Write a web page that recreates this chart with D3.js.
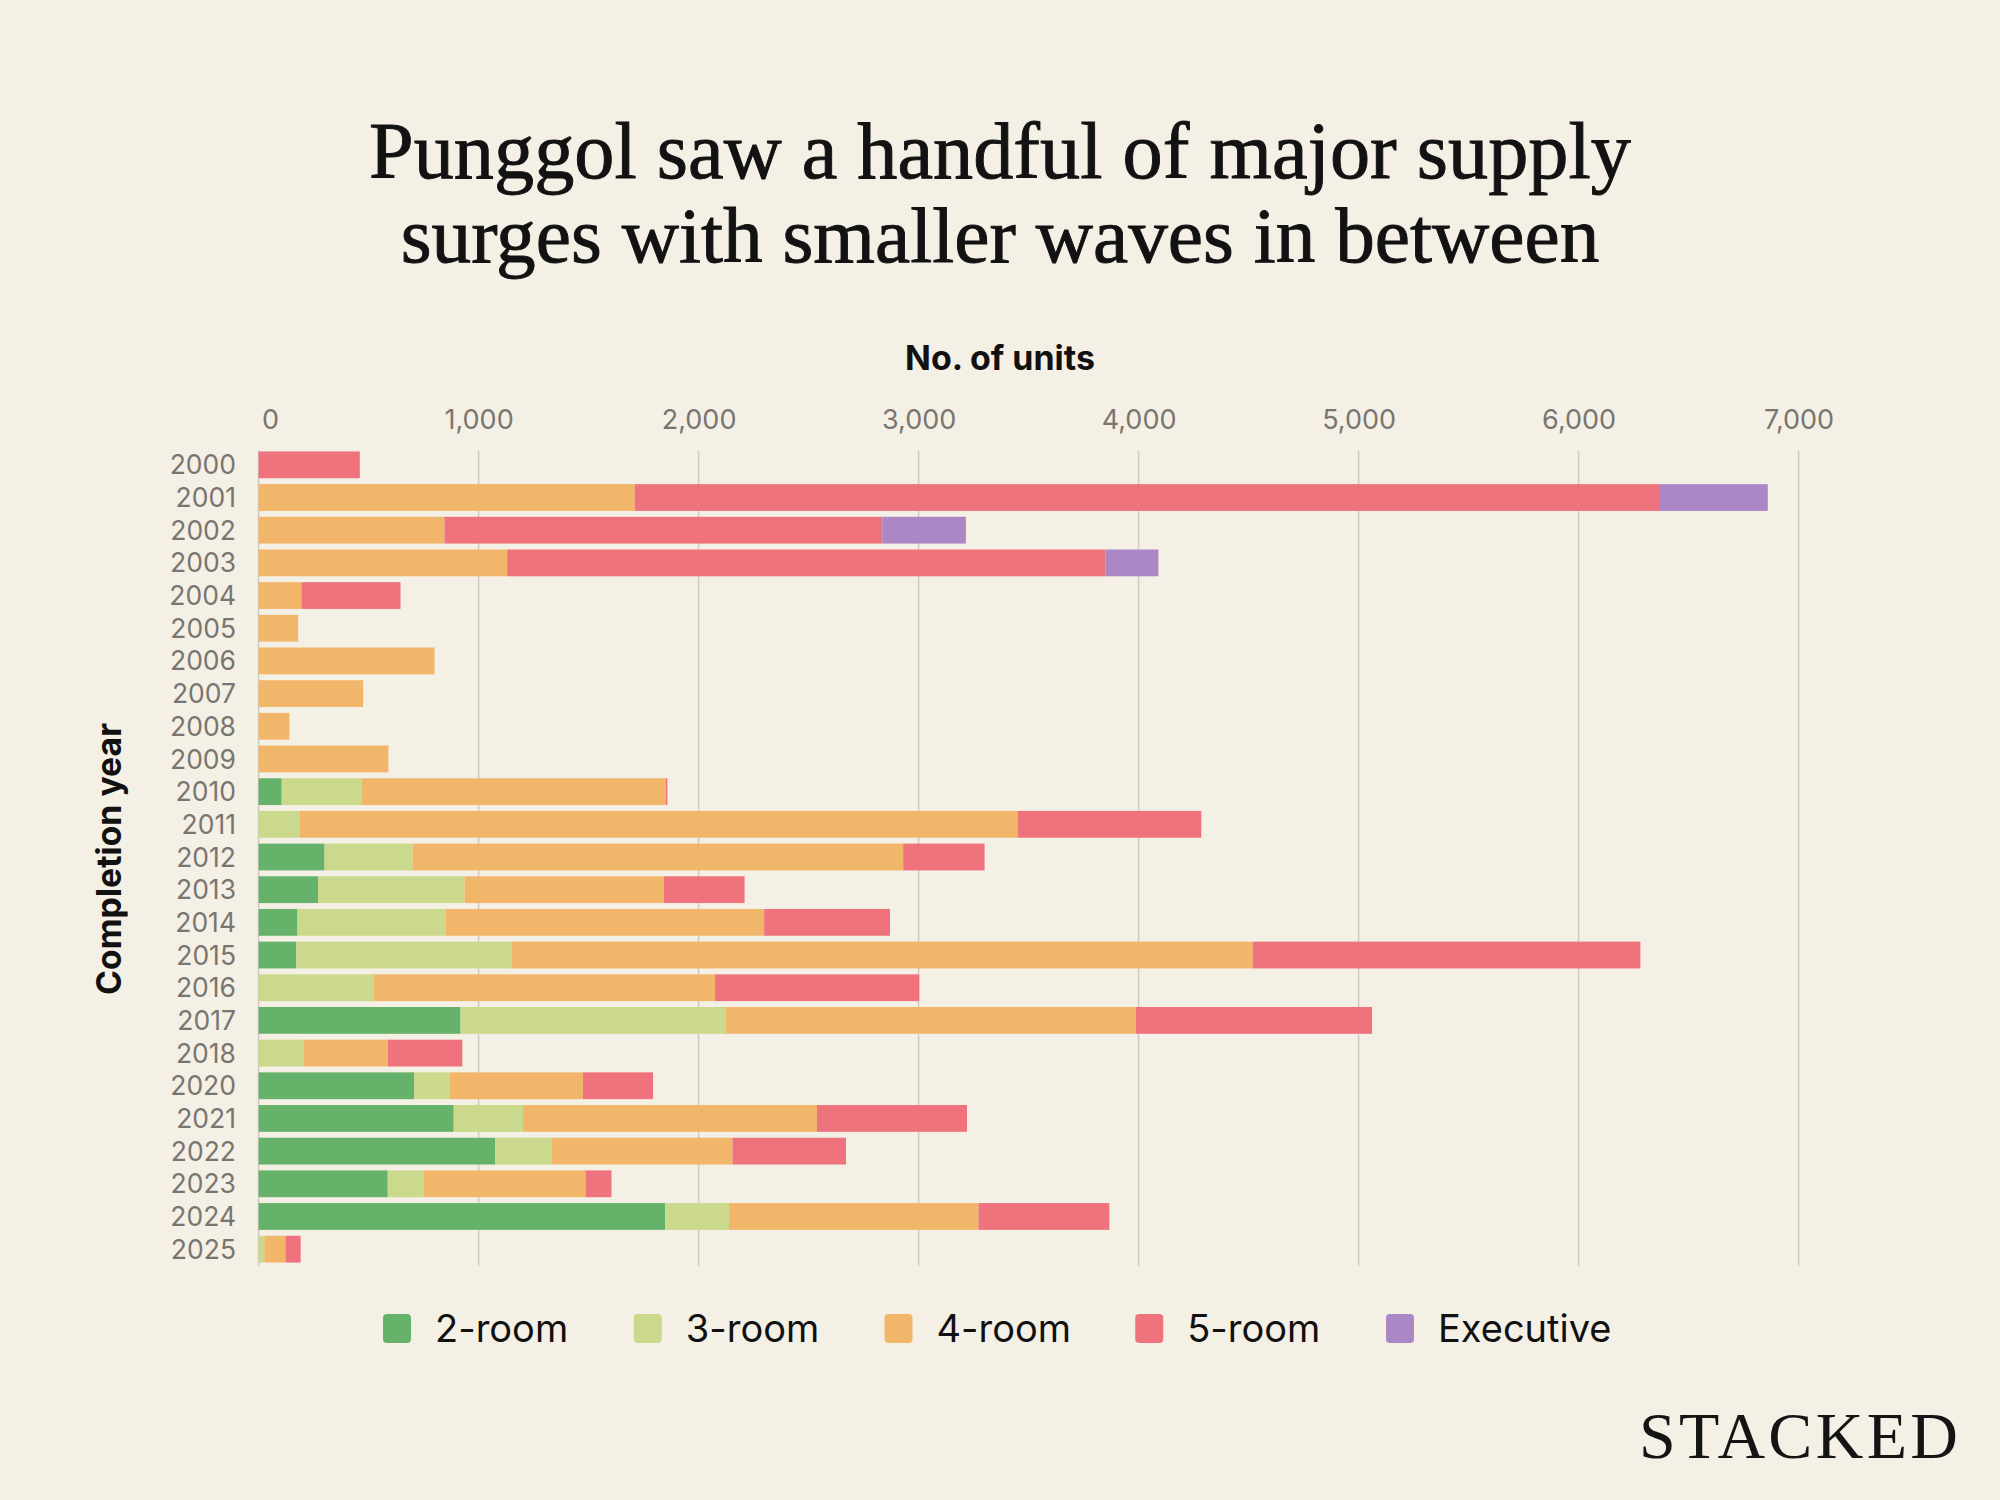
<!DOCTYPE html>
<html><head><meta charset="utf-8">
<script src="https://cdn.jsdelivr.net/npm/d3@7"></script>
<style>
html,body{margin:0;padding:0;background:#f4f0e5;}
svg{display:block;}
</style></head>
<body>
<svg id="chart" width="2000" height="1500"></svg>
<script>
// ---- data ----
const years = ["2000","2001","2002","2003","2004","2005","2006","2007","2008","2009","2010","2011","2012","2013","2014","2015","2016","2017","2018","2020","2021","2022","2023","2024","2025"];
const room2 = [0,0,0,0,0,0,0,0,0,0,105,0,300,270,177,171,0,918,0,707,887,1076,587,1848,0];
const room3 = [0,0,0,0,0,0,0,0,0,0,365,185,400,666,674,980,522,1204,203,162,315,254,164,290,26];
const room4 = [0,1710,845,1130,195,180,800,475,140,590,1380,3265,2230,906,1447,3368,1553,1866,384,605,1336,824,735,1134,96];
const room5 = [460,4660,1990,2720,450,0,0,0,0,0,8,835,370,367,572,1762,928,1073,339,319,682,516,118,595,69];
const executive = [0,490,380,240,0,0,0,0,0,0,0,0,0,0,0,0,0,0,0,0,0,0,0,0,0];
const seriesNames = ["2-room","3-room","4-room","5-room","Executive"];
const xTicks = [0,1000,2000,3000,4000,5000,6000,7000];
const titleLines = ["Punggol saw a handful of major supply","surges with smaller waves in between"];

// ---- styles ----
const colors = ["#66b26a","#cad98b","#f2b66b","#ee737c","#ab88c5"];
const sans = "Inter, Roboto, 'Noto Sans', sans-serif";
const serif = "'Liberation Serif', 'DejaVu Serif', serif";

const svg = d3.select("#chart");
svg.append("rect").attr("width",2000).attr("height",1500).attr("fill","#f4f0e5");

const rows = years.map((y,i)=>({year:y, "2-room":room2[i], "3-room":room3[i], "4-room":room4[i], "5-room":room5[i], "Executive":executive[i]}));
const stacked = d3.stack().keys(seriesNames)(rows);

const x = d3.scaleLinear().domain([0,7000]).range([258.6,1798.6]);
const y = d3.scaleBand().domain(years).range([448.5,1265.5]).paddingInner(0.18).paddingOuter(0.09);

function fitWidth(sel, target){
  const n = sel.node();
  const fs = parseFloat(sel.attr("font-size"));
  const w = n.getComputedTextLength();
  sel.attr("font-size", fs*target/w);
}

// title
const t1 = svg.append("text").attr("x",1000).attr("y",178).attr("text-anchor","middle")
  .attr("font-family",serif).attr("font-size",78).attr("fill","#121212")
  .attr("stroke","#121212").attr("stroke-width",0.9).text(titleLines[0]);
fitWidth(t1,1262);
const t2 = svg.append("text").attr("x",1000).attr("y",262).attr("text-anchor","middle")
  .attr("font-family",serif).attr("font-size",78).attr("fill","#121212")
  .attr("stroke","#121212").attr("stroke-width",0.9).text(titleLines[1]);
fitWidth(t2,1199);

// axis titles
const xt = svg.append("text").attr("x",1000).attr("y",370).attr("text-anchor","middle")
  .attr("font-family",sans).attr("font-weight",700).attr("font-size",30).attr("fill","#111").text("No. of units");
fitWidth(xt,190);
const yt = svg.append("text").attr("transform","translate(121,859) rotate(-90)").attr("text-anchor","middle")
  .attr("font-family",sans).attr("font-weight",700).attr("font-size",30).attr("fill","#111").text("Completion year");
fitWidth(yt,272);

// gridlines
const [gy0, gy1] = y.range();
svg.append("g").selectAll("line").data(xTicks).join("line")
  .attr("x1",d=>x(d)).attr("x2",d=>x(d)).attr("y1",gy0+2).attr("y2",gy1)
  .attr("stroke","#cfcabf").attr("stroke-width",1.5);

// top axis
const xAxis = svg.append("g").attr("transform","translate(0,429)")
  .call(d3.axisTop(x).tickValues(xTicks).tickFormat(d3.format(",")).tickSize(0).tickPadding(0));
xAxis.select(".domain").remove();
xAxis.selectAll("text").attr("font-family",sans).attr("font-size",27).attr("fill","#7a756f").attr("dy",0);
xAxis.selectAll(".tick").filter(d=>d===0).select("text").attr("text-anchor","start").attr("x",3);

// y axis
const yAxis = svg.append("g").attr("transform","translate(236,0)")
  .call(d3.axisLeft(y).tickSize(0).tickPadding(0));
yAxis.select(".domain").remove();
yAxis.selectAll("text").attr("font-family",sans).attr("font-size",26.5).attr("fill","#7a756f").attr("dy","0.36em");

// bars
svg.append("g").selectAll("g").data(stacked).join("g")
  .attr("fill",(d,i)=>colors[i])
  .selectAll("rect").data(d=>d).join("rect")
  .attr("x",d=>x(d[0])).attr("width",d=>Math.max(0,x(d[1])-x(d[0])))
  .attr("y",d=>y(d.data.year)).attr("height",y.bandwidth());

// legend
const legX = d3.scalePoint().domain(seriesNames).range([383,1386]);
const leg = svg.append("g").selectAll("g").data(seriesNames).join("g")
  .attr("transform",d=>`translate(${legX(d)},1314)`);
leg.append("rect").attr("width",28).attr("height",29).attr("rx",4)
  .attr("fill",(d,i)=>colors[i]);
leg.append("text").attr("x",52).attr("y",14.5).attr("dy","0.36em")
  .attr("font-family",sans).attr("font-size",38).attr("fill","#111").text(d=>d);

// logo
svg.append("text").attr("x",1639).attr("y",1458).attr("font-family",serif).attr("font-size",66)
  .attr("fill","#141414").attr("textLength",319).attr("lengthAdjust","spacing").text("STACKED");
</script>
</body></html>
